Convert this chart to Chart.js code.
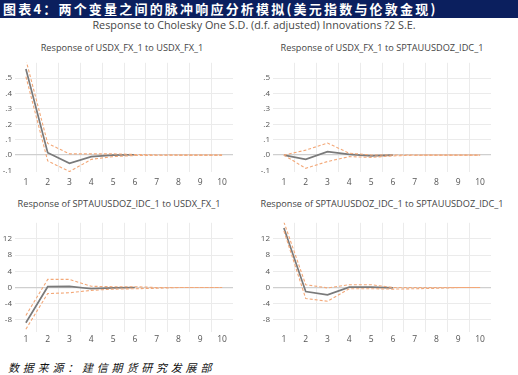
<!DOCTYPE html>
<html><head><meta charset="utf-8">
<script src="https://cdn.jsdelivr.net/npm/chart.js@4/dist/chart.umd.min.js"></script>
<style>
html,body{margin:0;padding:0;background:#fff;width:518px;height:375px;overflow:hidden;position:relative;font-family:"Open Sans","Liberation Sans",sans-serif;}
#bar{position:absolute;left:0;top:0;width:518px;height:18px;background:#0b1f5e;color:#fff;font-family:"Noto Sans CJK SC";font-weight:bold;font-size:13px;line-height:18px;letter-spacing:2.2px;padding-left:3px;box-sizing:border-box;white-space:nowrap;}
.t{position:absolute;color:#454545;font-size:9px;white-space:nowrap;transform:translateX(-50%);}
#foot{position:absolute;left:8px;top:359px;font-family:"Noto Sans CJK SC";font-style:italic;font-size:11px;letter-spacing:3.8px;color:#111;white-space:nowrap;}
.c{position:absolute;}
</style></head><body>
<div id="bar">图表4：两个变量之间的脉冲响应分析模拟(美元指数与伦敦金现)</div>
<div class="t" style="left:254px;top:17px;font-size:10.8px;">Response to Cholesky One S.D. (d.f. adjusted) Innovations ?2 S.E.</div>
<div class="t" style="left:122px;top:41px;font-size:9.2px;">Response of USDX_FX_1 to USDX_FX_1</div>
<div class="t" style="left:382px;top:41px;font-size:9.2px;">Response of USDX_FX_1 to SPTAUUSDOZ_IDC_1</div>
<div class="t" style="left:119px;top:197px;font-size:9.2px;">Response of SPTAUUSDOZ_IDC_1 to USDX_FX_1</div>
<div class="t" style="left:382px;top:197px;font-size:9.2px;">Response of SPTAUUSDOZ_IDC_1 to SPTAUUSDOZ_IDC_1</div>
<div class="c" style="left:0;top:55px;width:245px;height:130px;"><canvas id="c1"></canvas></div>
<div class="c" style="left:258px;top:55px;width:245px;height:130px;"><canvas id="c2"></canvas></div>
<div class="c" style="left:0;top:215px;width:245px;height:130px;"><canvas id="c3"></canvas></div>
<div class="c" style="left:258px;top:215px;width:245px;height:130px;"><canvas id="c4"></canvas></div>
<div id="foot">数据来源：建信期货研究发展部</div>
<script>
const periods = ['1','2','3','4','5','6','7','8','9','10'];
const topTicks = [-0.1, 0, 0.1, 0.2, 0.3, 0.4, 0.5];
const bottomTicks = [-8, -4, 0, 4, 8, 12];

// USDX to USDX
const usdUsdResp  = [0.56, 0.015, -0.054, -0.01, 0.0, 0.002, null, null, null, null];
const usdUsdUpper = [0.62, 0.076, 0.008, 0.008, 0.008, 0.004, 0.001, 0.0, 0.0, 0.0];
const usdUsdLower = [0.51, -0.038, -0.107, -0.028, -0.01, -0.003, -0.001, 0.0, 0.0, 0.0];
// USDX to Gold
const usdAuResp  = [0.0, -0.028, 0.022, 0.004, -0.005, 0.0, null, null, null, null];
const usdAuUpper = [0.0, 0.032, 0.078, 0.012, 0.001, 0.001, 0.0, 0.0, 0.0, 0.0];
const usdAuLower = [0.0, -0.086, -0.042, -0.01, -0.015, -0.005, -0.001, 0.0, 0.0, 0.0];
// Gold to USDX
const auUsdResp  = [-8.7, 0.2, 0.3, -0.3, -0.1, 0.0, null, null, null, null];
const auUsdUpper = [-6.9, 2.0, 2.0, 0.3, 0.2, 0.2, 0.0, 0.0, 0.0, 0.0];
const auUsdLower = [-10.3, -1.5, -1.3, -0.7, -0.4, -0.3, -0.2, 0.0, 0.0, 0.0];
// Gold to Gold
const auAuResp  = [14.7, -1.0, -1.8, 0.1, 0.1, -0.1, null, null, null, null];
const auAuUpper = [16.2, 0.7, -0.1, 0.7, 0.7, 0.0, 0.0, 0.0, 0.0, 0.0];
const auAuLower = [14.0, -2.7, -3.4, -0.3, -0.3, -0.4, -0.3, -0.2, 0.0, 0.0];

function fmtTop(v){ return v.toFixed(1).replace('0.', '.'); }
function fmtBottom(v){ return String(v); }

function make(id, resp, upper, lower, ymin, ymax, ticks, fmt, labelPad){
  const orange = '#f3a878';
  new Chart(document.getElementById(id), {
    type: 'line',
    data: {
      labels: periods,
      datasets: [
        {data: resp, borderColor: '#7a7a7a', borderWidth: 1.7, pointRadius: 0, tension: 0, order: 2},
        {data: upper, borderColor: orange, borderWidth: 1.1, borderDash: [3, 2], pointRadius: 0, tension: 0, order: 1},
        {data: lower, borderColor: orange, borderWidth: 1.1, borderDash: [3, 2], pointRadius: 0, tension: 0, order: 1}
      ]
    },
    options: {
      responsive: true, maintainAspectRatio: false, animation: false,
      layout: {padding: {top: 7, right: 12, left: 0, bottom: 0}},
      plugins: {legend: {display: false}, tooltip: {enabled: false}},
      scales: {
        x: {
          offset: true,
          grid: {offset: true, drawTicks: false,
            color: c => (c.index === 0 || c.index === undefined) ? 'rgba(0,0,0,0)' : '#ebebeb'},
          border: {display: false},
          ticks: {color: '#555', font: {size: 8.5, family: 'Open Sans'}, padding: labelPad, maxRotation: 0, autoSkip: false},
          afterFit: s => { s.height = 13; }
        },
        y: {
          min: ymin, max: ymax,
          afterBuildTicks: s => { s.ticks = ticks.map(v => ({value: v})); },
          grid: {drawTicks: false,
            color: c => (c.tick && Math.abs(c.tick.value) < 1e-9) ? '#cfcfcf' : (c.tick && c.tick.value === ticks[0] && ymin > ticks[0] - (ymax - ymin) * 0.03 ? 'rgba(0,0,0,0)' : '#ebebeb'),
            lineWidth: c => (c.tick && Math.abs(c.tick.value) < 1e-9) ? 1.2 : 1},
          border: {display: false},
          ticks: {color: '#555', font: {size: 8, family: 'Open Sans'}, padding: 3, callback: v => fmt(v)},
          afterFit: s => { s.width = 15; }
        }
      }
    }
  });
}
make('c1', usdUsdResp, usdUsdUpper, usdUsdLower, -0.11, 0.6, topTicks, fmtTop, 5);
make('c2', usdAuResp, usdAuUpper, usdAuLower, -0.11, 0.6, topTicks, fmtTop, 5);
make('c3', auUsdResp, auUsdUpper, auUsdLower, -11, 16, bottomTicks, fmtBottom, 2);
make('c4', auAuResp, auAuUpper, auAuLower, -11, 16, bottomTicks, fmtBottom, 2);
</script>
</body></html>
